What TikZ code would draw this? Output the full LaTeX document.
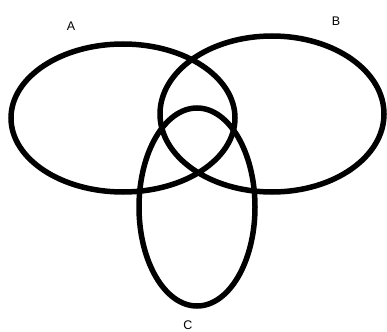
\documentclass[tikz,border=0pt]{standalone}
\usepackage{fontspec}
\setmainfont{Liberation Sans}
\usetikzlibrary{calc}

\begin{document}
\begin{tikzpicture}[x=1pt,y=-1pt,
                    set/.style={draw,line width=5.5pt},
                    every node/.style={inner sep=0pt,font=\fontsize{12.5}{14}\selectfont}
                  ]
  \useasboundingbox (0,0) rectangle (387,331);
  \draw[set] (123,118) ellipse [x radius=112,y radius=74];
  \draw[set] (272,114) ellipse [x radius=112,y radius=78];
  \draw[set] (197,207) ellipse [x radius=58,y radius=99];
  \node (labA) at (71,26) {A};
  \node (labB) at (336,21) {B};
  \node (labC) at (188,325) {C};
\end{tikzpicture}
\end{document}
